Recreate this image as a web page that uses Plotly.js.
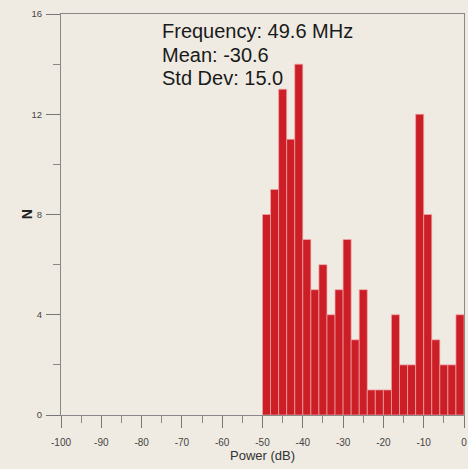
<!DOCTYPE html>
<html><head><meta charset="utf-8">
<script src="https://cdn.plot.ly/plotly-3.0.1.min.js"></script>
<style>html,body{margin:0;padding:0;background:#efebe3;}</style>
</head><body>
<div id="chart" style="width:468px;height:469px;"></div>
<script>
const binCenters = [-49,-47,-45,-43,-41,-39,-37,-35,-33,-31,-29,-27,-25,-23,-21,-19,-17,-15,-13,-11,-9,-7,-5,-3,-1];
const counts = [8,9,13,11,14,7,5,6,4,5,7,3,5,1,1,1,4,2,2,12,8,3,2,2,4];
const xTicks = [-100,-90,-80,-70,-60,-50,-40,-30,-20,-10,0];
const yTicks = [0,4,8,12,16];
const infoLines = ["Frequency: 49.6 MHz","Mean: -30.6","Std Dev: 15.0"];

const trace = {
  type: 'bar', x: binCenters, y: counts, width: 2,
  marker: {color: '#cc1e27', line: {color: '#f0a8a8', width: 0.7}},
  hoverinfo: 'x+y'
};
const infoY = [0.958, 0.899, 0.840];
const annotations = infoLines.map((t, i) => ({
  xref: 'paper', yref: 'paper', x: 0.245, y: infoY[i], xanchor: 'left', yanchor: 'middle',
  text: t, showarrow: false, align: 'left',
  font: {size: 20, color: '#1a1a1a', family: 'Liberation Sans, Arial, sans-serif'}
}));
annotations.push({
  xref: 'paper', yref: 'paper', x: -0.085, y: 0.5, xanchor: 'center', yanchor: 'middle',
  text: '<b>N</b>', textangle: -90, showarrow: false,
  font: {size: 14, color: '#222', family: 'Liberation Sans, Arial, sans-serif'}
});
const layout = {
  width: 468, height: 469,
  margin: {l: 61, r: 4, t: 14, b: 54},
  paper_bgcolor: '#efebe3', plot_bgcolor: '#efebe3',
  showlegend: false, bargap: 0,
  font: {family: 'Liberation Sans, Arial, sans-serif', color: '#333'},
  xaxis: {
    range: [-100, 0], tickvals: xTicks, ticktext: xTicks.map(String),
    ticks: 'outside', ticklen: 12, tickcolor: '#777', tickwidth: 1,
    ticklabelstandoff: 6,
    minor: {dtick: 5, ticks: 'outside', ticklen: 7, tickcolor: '#888'},
    showgrid: false, zeroline: false, showline: true, linecolor: '#888', linewidth: 1,
    mirror: true,
    tickfont: {size: 10, color: '#444'},
    title: {text: 'Power (dB)', font: {size: 13, color: '#333'}, standoff: 0}
  },
  yaxis: {
    range: [0, 16], tickvals: yTicks, ticktext: yTicks.map(String),
    ticks: 'outside', ticklen: 14, tickcolor: '#777', tickwidth: 1,
    ticklabelstandoff: 2,
    minor: {dtick: 2, ticks: 'outside', ticklen: 7, tickcolor: '#888'},
    showgrid: false, zeroline: false, showline: true, linecolor: '#888', linewidth: 1,
    mirror: true,
    tickfont: {size: 9.5, color: '#444'},
    title: {text: ''}
  },
  annotations: annotations
};
Plotly.newPlot('chart', [trace], layout, {displayModeBar: false, staticPlot: true});
</script>
</body></html>
